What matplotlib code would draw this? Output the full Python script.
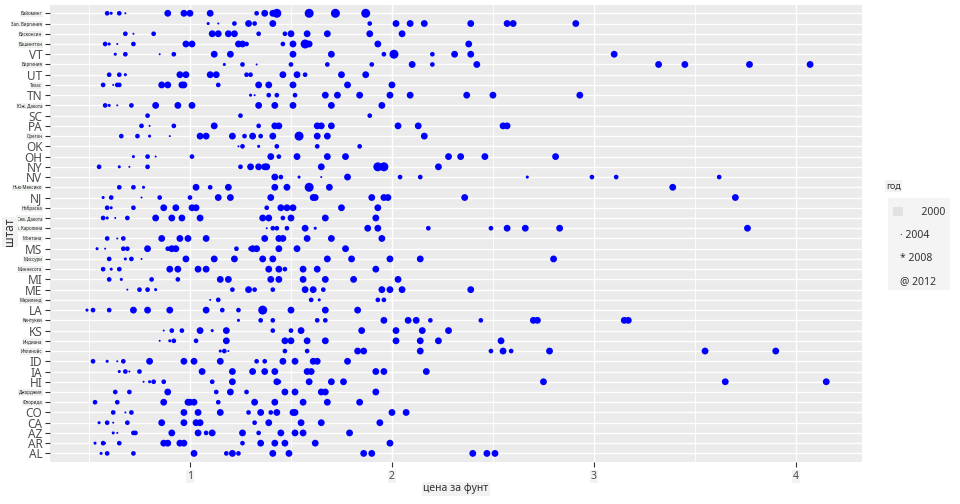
import numpy as np
import matplotlib.pyplot as plt
from matplotlib.patches import Rectangle

plt.rcParams['font.family'] = ['Noto Sans', 'DejaVu Sans']

# states bottom -> top
states = ["AL", "AR", "AZ", "CA", "CO", "FL", "GA", "HI", "IA", "ID", "IL",
          "IN", "KS", "KY", "LA", "MD", "ME", "MI", "MN", "MO", "MS", "MT",
          "NC", "ND", "NE", "NJ", "NM", "NV", "NY", "OH", "OK", "OR", "PA",
          "SC", "SD", "TN", "TX", "UT", "VA", "VT", "WA", "WI", "WV", "WY"]

# these came out as tiny translated names in the picture
ru_names = {"FL": "Флорида", "GA": "Джорджия", "IL": "Иллинойс", "IN": "Индиана",
            "KY": "Кентукки", "MD": "Мэриленд", "MN": "Миннесота", "MO": "Миссури",
            "MT": "Монтана", "NC": "Сев. Каролина", "ND": "Сев. Дакота",
            "NE": "Небраска", "NM": "Нью-Мексико", "OR": "Орегон",
            "SD": "Юж. Дакота", "TX": "Техас", "VA": "Виргиния", "WA": "Вашингтон",
            "WI": "Висконсин", "WV": "Зап. Виргиния", "WY": "Вайоминг"}

AL_price = [0.56, 0.59, 0.72, 1.02, 1.18, 1.21, 1.24, 1.41, 1.49, 1.86, 1.90, 2.40, 2.47, 2.51]
AL_year = [2000, 2003, 2003, 2007, 2003, 2007, 2003, 2007, 2007, 2007, 2007, 2007, 2007, 2007]
AR_price = [0.53, 0.57, 0.58, 0.65, 0.87, 0.89, 0.95, 0.97, 1.26, 1.35, 1.42, 1.47, 1.62, 1.99]
AR_year = [2000, 2003, 1998, 2003, 2007, 2007, 2007, 2007, 2003, 2007, 2007, 2007, 2007, 2007]
AZ_price = [0.62, 0.64, 0.72, 0.73, 0.91, 1.04, 1.08, 1.11, 1.26, 1.34, 1.45, 1.52, 1.56, 1.79]
AZ_year = [2000, 1998, 2003, 2003, 2007, 2007, 2003, 2007, 2007, 2003, 2007, 2007, 2007, 2007]
CA_price = [0.55, 0.59, 0.62, 0.69, 0.86, 0.97, 1.03, 1.05, 1.32, 1.39, 1.55, 1.65, 1.94]
CA_year = [2000, 2003, 1998, 2003, 2007, 2007, 2007, 2007, 2003, 2007, 2007, 2007, 2007]
CO_price = [0.62, 0.68, 0.71, 0.97, 1.04, 1.15, 1.29, 1.35, 1.40, 1.43, 1.51, 1.52, 2.00, 2.07]
CO_year = [2003, 1998, 2003, 2007, 2007, 2007, 2003, 2007, 2003, 2007, 2007, 2007, 2007, 2007]
FL_price = [0.53, 0.64, 0.87, 0.99, 1.00, 1.02, 1.14, 1.32, 1.42, 1.56, 1.68, 1.84]
FL_year = [2003, 2003, 2007, 2007, 2007, 2007, 2003, 2007, 2007, 2007, 2007, 2007]
GA_price = [0.63, 0.70, 0.89, 1.13, 1.20, 1.28, 1.47, 1.52, 1.65, 1.67, 1.92]
GA_year = [2003, 2003, 2007, 2003, 2007, 2003, 2007, 2007, 2007, 2007, 2007]
HI_price = [0.77, 0.80, 0.82, 0.87, 1.11, 1.21, 1.43, 1.44, 1.59, 1.70, 1.76, 2.75, 3.65, 4.15]
HI_year = [1998, 2000, 2003, 2003, 2003, 2007, 2007, 2003, 2007, 2007, 2007, 2007, 2007, 2007]
IA_price = [0.65, 0.68, 0.70, 0.75, 1.06, 1.21, 1.31, 1.37, 1.42, 1.58, 1.60, 1.92, 1.96, 2.17]
IA_year = [2000, 2003, 1998, 2003, 2007, 2007, 2007, 2007, 2007, 2007, 2007, 2007, 2007, 2007]
ID_price = [0.52, 0.59, 0.64, 0.67, 0.80, 0.97, 1.02, 1.15, 1.33, 1.37, 1.46, 1.52, 1.61, 1.63, 1.78]
ID_year = [2003, 2000, 1998, 2003, 2007, 2007, 2007, 2007, 2003, 2003, 2007, 2007, 2007, 2007, 2007]
IL_price = [1.15, 1.17, 1.19, 1.47, 1.58, 1.83, 1.86, 2.14, 2.49, 2.55, 2.59, 2.78, 3.55, 3.90]
IL_year = [2000, 2003, 1998, 2003, 2003, 2007, 2007, 2007, 2003, 2007, 2003, 2007, 2007, 2007]
IN_price = [0.85, 0.90, 0.92, 1.03, 1.18, 1.47, 1.50, 1.58, 1.67, 2.02, 2.14, 2.23, 2.54]
IN_year = [1998, 2000, 2003, 2003, 2007, 2007, 2007, 2007, 2007, 2007, 2007, 2007, 2007]
KS_price = [0.87, 0.91, 0.96, 1.05, 1.11, 1.18, 1.41, 1.50, 1.55, 1.85, 2.02, 2.15, 2.28]
KS_year = [1998, 2003, 2003, 2007, 2000, 2007, 2003, 2003, 2007, 2007, 2007, 2007, 2007]
KY_price = [1.24, 1.35, 1.41, 1.63, 1.67, 1.96, 2.08, 2.12, 2.19, 2.44, 2.70, 2.72, 3.15, 3.17]
KY_year = [2000, 2003, 2003, 2003, 2003, 2007, 2007, 2007, 2003, 2003, 2007, 2007, 2007, 2007]
LA_price = [0.49, 0.52, 0.60, 0.72, 0.79, 0.90, 1.08, 1.16, 1.24, 1.36, 1.50, 1.67, 1.83]
LA_year = [2000, 2003, 2003, 2007, 2007, 2007, 2007, 2003, 2003, 2011, 2007, 2007, 2007]
MD_price = [1.10, 1.14, 1.60, 1.64, 1.93, 1.96]
MD_year = [1998, 2003, 2003, 2000, 2003, 2003]
ME_price = [0.69, 0.75, 0.79, 0.83, 1.21, 1.29, 1.32, 1.41, 1.57, 1.61, 1.66, 1.95, 1.99, 2.05, 2.39]
ME_year = [1998, 2003, 2003, 2000, 2003, 2007, 2003, 2003, 2007, 2007, 2003, 2007, 2007, 2007, 2007]
MI_price = [0.60, 0.66, 0.81, 0.94, 1.15, 1.19, 1.40, 1.44, 1.56, 1.67, 1.81, 2.03]
MI_year = [2003, 2000, 2003, 2003, 2007, 2007, 2007, 2007, 2007, 2007, 2007, 2007]
MN_price = [0.57, 0.61, 0.65, 0.90, 0.94, 1.04, 1.08, 1.39, 1.44, 1.47, 1.56, 1.63, 1.92]
MN_year = [2003, 2000, 2003, 2007, 2007, 2007, 2007, 2007, 2007, 2003, 2007, 2007, 2007]
MO_price = [0.60, 0.68, 0.71, 0.76, 0.98, 1.12, 1.22, 1.36, 1.41, 1.68, 1.80, 1.99, 2.14, 2.80]
MO_year = [2003, 2000, 2003, 1998, 2007, 2007, 2007, 2007, 2007, 2007, 2007, 2007, 2007, 2007]
MS_price = [0.54, 0.58, 0.67, 0.69, 0.79, 0.89, 0.91, 0.93, 1.23, 1.30, 1.31, 1.33, 1.44, 1.53, 1.77]
MS_year = [2000, 1998, 2003, 2003, 2007, 2003, 2007, 2007, 2003, 2003, 2007, 2007, 2007, 2007, 2007]
MT_price = [0.59, 0.64, 0.67, 0.86, 0.95, 0.99, 1.08, 1.37, 1.44, 1.46, 1.58, 1.70, 1.95]
MT_year = [2003, 1998, 2003, 2007, 2007, 2007, 2007, 2007, 2007, 2007, 2007, 2007, 2007]
NC_price = [1.38, 1.41, 1.43, 1.48, 1.57, 1.62, 1.88, 1.93, 2.18, 2.49, 2.57, 2.66, 2.83, 3.76]
NC_year = [1998, 2003, 2003, 2003, 2007, 2000, 2007, 2007, 2003, 2003, 2007, 2007, 2007, 2007]
ND_price = [0.57, 0.59, 0.63, 0.69, 0.83, 0.91, 0.96, 1.05, 1.36, 1.39, 1.46, 1.50, 1.67, 1.92]
ND_year = [2003, 2000, 1998, 2003, 2007, 2007, 2007, 2007, 2007, 2007, 2003, 2007, 2007, 2007]
NE_price = [0.59, 0.61, 0.72, 0.87, 0.93, 1.01, 1.03, 1.38, 1.45, 1.48, 1.51, 1.75, 1.93]
NE_year = [2003, 2000, 2003, 2007, 2007, 2007, 2007, 2003, 2007, 2007, 2007, 2007, 2007]
NJ_price = [0.57, 0.61, 0.76, 0.85, 1.00, 1.14, 1.20, 1.40, 1.61, 1.62, 1.90, 1.96, 1.98, 2.36, 3.70]
NJ_year = [2000, 2003, 1998, 2003, 2003, 2007, 2007, 2007, 2007, 2007, 2007, 2007, 2007, 2007, 2007]
NM_price = [0.65, 0.72, 0.77, 1.03, 1.10, 1.19, 1.42, 1.48, 1.59, 1.69, 3.39]
NM_year = [2003, 2003, 2000, 2007, 2003, 2007, 2007, 2007, 2011, 2007, 2007]
NV_price = [1.42, 1.45, 1.54, 1.65, 1.78, 2.04, 2.14, 2.67, 2.99, 3.11, 3.62]
NV_year = [2007, 2003, 2000, 1998, 2007, 2003, 2003, 2000, 2003, 2003, 2003]
NY_price = [0.55, 0.65, 0.70, 0.79, 1.25, 1.30, 1.34, 1.37, 1.38, 1.65, 1.93, 1.96, 2.23]
NY_year = [2003, 2000, 1998, 2003, 2003, 2007, 2007, 2007, 2007, 2007, 2011, 2011, 2007]
OH_price = [0.72, 0.79, 0.83, 1.01, 1.40, 1.44, 1.53, 1.68, 1.77, 2.28, 2.34, 2.46, 2.81]
OH_year = [2000, 2003, 1998, 2003, 2007, 2003, 2007, 2007, 2007, 2007, 2007, 2007, 2007]
OK_price = [1.24, 1.26, 1.34, 1.43, 1.63, 1.84]
OK_year = [1998, 2003, 2000, 2003, 2003, 2003]
OR_price = [0.66, 0.74, 0.80, 0.90, 1.05, 1.08, 1.21, 1.27, 1.31, 1.35, 1.41, 1.54, 1.63, 1.68, 2.16]
OR_year = [2003, 2003, 2000, 1998, 2007, 2007, 2007, 2003, 2007, 2003, 2007, 2011, 2007, 2007, 2007]
PA_price = [0.76, 0.80, 0.92, 1.12, 1.34, 1.42, 1.44, 1.63, 1.65, 1.70, 2.03, 2.13, 2.55, 2.57]
PA_year = [2003, 1998, 2003, 2007, 2003, 2007, 2007, 2007, 2007, 2007, 2007, 2007, 2007, 2007]
SC_price = [0.79, 1.25, 1.89]
SC_year = [2003, 2003, 2003]
SD_price = [0.58, 0.60, 0.64, 0.71, 0.83, 0.94, 1.01, 1.34, 1.42, 1.51, 1.70, 1.95]
SD_year = [2003, 2000, 1998, 2003, 2007, 2007, 2007, 2007, 2007, 2007, 2007, 2007]
TN_price = [1.30, 1.32, 1.39, 1.43, 1.52, 1.67, 1.73, 1.84, 1.99, 2.09, 2.37, 2.50, 2.93]
TN_year = [2000, 1998, 2003, 2003, 2003, 2007, 2007, 2007, 2007, 2007, 2007, 2007, 2007]
TX_price = [0.57, 0.62, 0.64, 0.65, 0.86, 0.89, 0.96, 0.97, 1.14, 1.34, 1.39, 1.51, 1.78, 2.00]
TX_year = [2003, 1998, 2003, 2003, 2007, 2007, 2007, 2007, 2003, 2007, 2007, 2007, 2007, 2007]
UT_price = [0.60, 0.65, 0.68, 0.95, 0.98, 1.10, 1.13, 1.28, 1.30, 1.46, 1.53, 1.57, 1.75, 1.87]
UT_year = [2003, 2003, 2000, 2007, 2007, 2007, 2007, 2003, 2003, 2007, 2007, 2003, 2007, 2007]
VA_price = [1.17, 1.26, 1.33, 1.50, 1.68, 1.90, 2.10, 2.20, 2.42, 3.32, 3.45, 3.77, 4.07]
VA_year = [2000, 2003, 1998, 2003, 2003, 2003, 2007, 2003, 2007, 2007, 2007, 2007, 2007]
VT_price = [0.63, 0.68, 0.85, 0.92, 1.12, 1.20, 1.51, 1.70, 1.96, 2.01, 2.20, 2.31, 2.39, 3.10]
VT_year = [2000, 2003, 1998, 2003, 2007, 2007, 2007, 2007, 2003, 2011, 2003, 2007, 2007, 2007]
WA_price = [0.58, 0.60, 0.64, 0.72, 0.98, 1.01, 1.24, 1.26, 1.28, 1.46, 1.51, 1.57, 1.59, 1.93, 2.38]
WA_year = [2003, 2000, 1998, 2003, 2007, 2007, 2007, 2007, 2003, 2003, 2007, 2011, 2007, 2007, 2007]
WI_price = [0.68, 0.72, 0.82, 1.11, 1.14, 1.19, 1.22, 1.34, 1.47, 1.50, 1.58, 1.68, 1.89, 2.05]
WI_year = [2003, 1998, 2003, 2007, 2007, 2007, 2007, 2003, 2003, 2007, 2007, 2007, 2007, 2007]
WV_price = [1.09, 1.14, 1.22, 1.29, 1.32, 1.41, 1.89, 2.02, 2.09, 2.16, 2.39, 2.57, 2.60, 2.91]
WV_year = [2000, 1998, 2003, 2007, 2003, 2007, 2003, 2007, 2007, 2007, 2007, 2007, 2007, 2007]
WY_price = [0.59, 0.61, 0.65, 0.68, 0.89, 0.97, 1.00, 1.10, 1.33, 1.37, 1.41, 1.43, 1.59, 1.72, 1.87]
WY_year = [2003, 2000, 2003, 1998, 2007, 2007, 2007, 2007, 2003, 2007, 2007, 2011, 2011, 2011, 2011]

legend_years = [2000, 2004, 2008, 2012]
legend_keys = ["", "·", "*", "@"]


def dot_size(years):
    # diameter in px grows with the year, converted to points^2
    d = 2 + (np.asarray(years) - 1998) / 14 * 7.5
    return (d * 0.72) ** 2


W, H = 960, 504
fig = plt.figure(figsize=(9.6, 5.04), dpi=100)
ax = fig.add_axes([50 / W, 1 - 462 / H, 812 / W, 457 / H])
ax.set_facecolor('#EBEBEB')

for i, st in enumerate(states):
    p = globals()[st + "_price"]
    yr = globals()[st + "_year"]
    ax.scatter(p, np.full(len(p), i + 1), s=dot_size(yr), color='#0000FF',
               linewidths=0, zorder=3)

ax.set_xlim(0.307, 4.327)
ax.set_ylim(0.16, 44.81)
ax.set_xticks([1, 2, 3, 4])
ax.set_xticks([0.5, 1.5, 2.5, 3.5], minor=True)
ax.set_yticks(range(1, len(states) + 1))
ax.set_yticklabels([ru_names.get(s, s) for s in states])
ax.set_xticklabels(["1", "2", "3", "4"])
ax.grid(which='major', color='white', lw=1.0)
ax.grid(which='minor', axis='x', color='white', lw=0.6)
ax.set_axisbelow(True)
for sp in ax.spines.values():
    sp.set_visible(False)
ax.tick_params(which='major', color='#333333', length=3.5, width=0.8,
               labelcolor='#4D4D4D')
ax.tick_params(which='minor', length=0)
ax.tick_params(axis='x', labelsize=7.5, pad=3)
ax.tick_params(axis='y', pad=2)

for lab, st in zip(ax.get_yticklabels(), states):
    if st in ru_names:
        lab.set_fontsize(3.2)
        lab.set_color('#222222')
        lab.set_bbox(dict(facecolor='#EEF1EE', edgecolor='none', pad=0.5))
    else:
        lab.set_fontsize(8.5)
for lab in ax.get_xticklabels():
    lab.set_bbox(dict(facecolor='#F2F2F2', edgecolor='none', pad=0.6))

fig.text(456 / W, 1 - 489 / H, "цена за фунт", fontsize=7.5, color='#333333',
         ha='center', va='center',
         bbox=dict(facecolor='#F2F2F2', edgecolor='none', pad=1))
fig.text(10 / W, 1 - 232 / H, "штат", fontsize=8.5, color='#333333', rotation=90,
         ha='center', va='center',
         bbox=dict(facecolor='#F2F2F2', edgecolor='none', pad=0.8))

# legend, drawn by hand
fig.text(886 / W, 1 - 186 / H, "год", fontsize=6.5, color='#333333',
         ha='left', va='center',
         bbox=dict(facecolor='#F2F2F2', edgecolor='none', pad=1))
fig.patches.append(Rectangle((888 / W, 1 - 290 / H), 62 / W, 92 / H,
                             transform=fig.transFigure, facecolor='#F4F4F4',
                             edgecolor='none'))
fig.patches.append(Rectangle((893 / W, 1 - 216 / H), 10 / W, 9 / H,
                             transform=fig.transFigure, facecolor='#E2E2E2',
                             edgecolor='none'))
for k, (yr, key) in enumerate(zip(legend_years, legend_keys)):
    ypx = 212 + k * 23.3
    txt = f"{key} {yr}" if key else f"  {yr}"
    xpx = 916 if not key else 900
    fig.text(xpx / W, 1 - ypx / H, txt, fontsize=7.5, color='#333333',
             ha='left', va='center')

fig.savefig("out.png", dpi=100)
